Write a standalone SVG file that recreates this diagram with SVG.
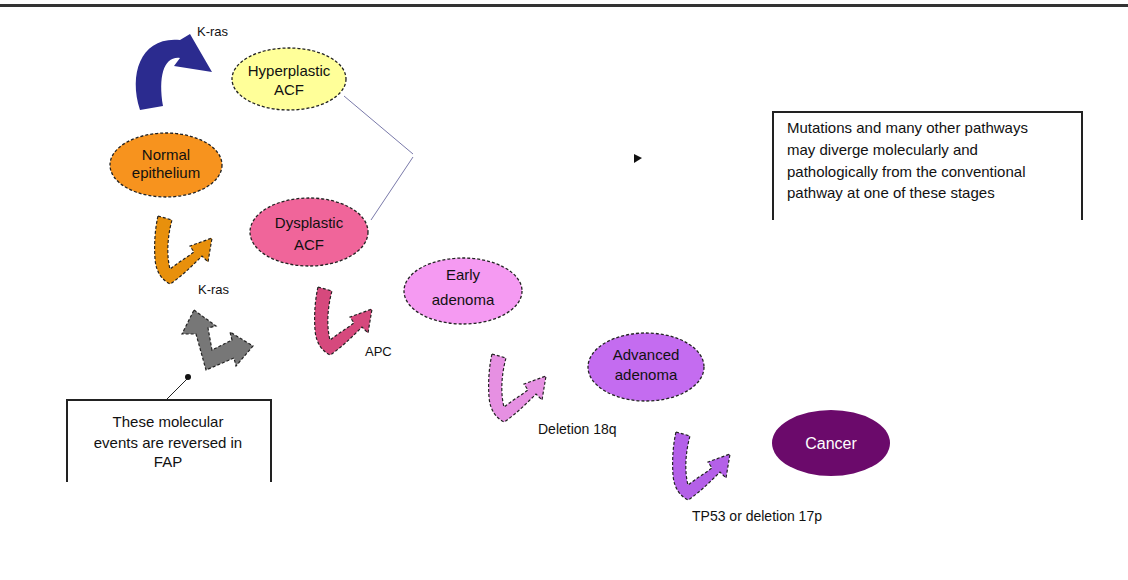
<svg xmlns="http://www.w3.org/2000/svg" width="1128" height="580" viewBox="0 0 1128 580">
<style>
.node{stroke:#222;stroke-width:1.3;stroke-dasharray:3 2}
.arr{stroke:#222;stroke-width:1.2;stroke-dasharray:3 2}
.t{font-family:"Liberation Sans",Arial,sans-serif;font-size:15px;fill:#111;text-anchor:middle}
.w{fill:#fff;font-size:16px}
.lbl{font-family:"Liberation Sans",Arial,sans-serif;font-size:13px;fill:#111}
.lbl14{font-size:14px}
.box{font-family:"Liberation Sans",Arial,sans-serif;font-size:15px;fill:#111}
</style>
<defs>
<path id="uarrow" d="M6,2 L20,6 C16,20 14,40 18,55 C24,50 34,44 42,38 L38,32 L60,24 L56,48 L50,42 C40,52 30,62 18,70 C10,66 4,58 3,45 C2,30 3,15 6,2 Z"/>
</defs>
<rect width="1128" height="580" fill="#fff"/>
<rect x="0" y="4" width="1128" height="3" fill="#333"/>

<g id="connectors" fill="none">
<line x1="344" y1="96" x2="413" y2="154" stroke="#7a7aaa" stroke-width="1"/>
<line x1="413" y1="157" x2="371" y2="220" stroke="#7a7aaa" stroke-width="1"/>
<polygon points="634,154 642,158 634,163" fill="#111"/>
<line x1="166" y1="400" x2="187" y2="379" stroke="#222" stroke-width="1"/>
<circle cx="188" cy="377" r="3" fill="#111"/>
</g>

<g id="arrow-blue">
<path d="M140,110 C128,72 142,36 180,40 L190,34 L212,72 L174,66 L180,58 C164,56 158,76 163,106 Z" fill="#2b2b8f"/>
<text class="lbl" x="197" y="36">K-ras</text>
</g>
<g id="arrow-orange">
<use href="#uarrow" x="152" y="214" fill="#e8900c" class="arr"/>
<text class="lbl" x="198" y="294">K-ras</text>
</g>
<g id="arrow-grey">
<polygon class="arr" fill="#777" points="194,310 216,326 208,328 212,350 232,340 230,332 253,346 236,366 234,358 206,370 196,334 182,334"/>
</g>
<g id="arrow-pink">
<use href="#uarrow" x="312" y="285" fill="#d6497d" class="arr"/>
<text class="lbl" x="365" y="356">APC</text>
</g>
<g id="arrow-lightpink">
<use href="#uarrow" x="486" y="352" fill="#e690e2" class="arr"/>
<text class="lbl lbl14" x="538" y="434">Deletion 18q</text>
</g>
<g id="arrow-purple">
<use href="#uarrow" x="670" y="430" fill="#b460e8" class="arr"/>
<text class="lbl lbl14" x="692" y="521">TP53 or deletion 17p</text>
</g>

<g id="node-hyperplastic">
<ellipse class="node" cx="289" cy="79" rx="57" ry="31" fill="#ffff99"/>
<text class="t" x="289" y="76">Hyperplastic</text>
<text class="t" x="289" y="95">ACF</text>
</g>
<g id="node-normal">
<ellipse class="node" cx="166" cy="165" rx="56" ry="32" fill="#f7931e"/>
<text class="t" x="166" y="160">Normal</text>
<text class="t" x="166" y="178">epithelium</text>
</g>
<g id="node-dysplastic">
<ellipse class="node" cx="309" cy="232" rx="59" ry="34" fill="#f0659a"/>
<text class="t" x="309" y="228">Dysplastic</text>
<text class="t" x="309" y="250">ACF</text>
</g>
<g id="node-early">
<ellipse class="node" cx="463" cy="291" rx="59" ry="33" fill="#f59af2"/>
<text class="t" x="463" y="280">Early</text>
<text class="t" x="463" y="305">adenoma</text>
</g>
<g id="node-advanced">
<ellipse class="node" cx="646" cy="367" rx="58" ry="34" fill="#c46cf0"/>
<text class="t" x="646" y="360">Advanced</text>
<text class="t" x="646" y="380">adenoma</text>
</g>
<g id="node-cancer">
<ellipse cx="831" cy="443" rx="59" ry="33" fill="#6b0a6b"/>
<text class="t w" x="831" y="449">Cancer</text>
</g>

<g id="note-right">
<rect x="773" y="112" width="309" height="108" fill="#fff"/>
<path d="M773,220 V112 H1082 V220" fill="none" stroke="#222" stroke-width="2"/>
<text class="box" x="787" y="133">Mutations and many other pathways</text>
<text class="box" x="787" y="155">may diverge molecularly and</text>
<text class="box" x="787" y="177">pathologically from the conventional</text>
<text class="box" x="787" y="198">pathway at one of these stages</text>
</g>
<g id="note-left">
<rect x="67" y="400" width="204" height="82" fill="#fff"/>
<path d="M67,482 V400 H271 V482" fill="none" stroke="#222" stroke-width="2"/>
<text class="box" x="168" y="427" text-anchor="middle">These molecular</text>
<text class="box" x="168" y="448" text-anchor="middle">events are reversed in</text>
<text class="box" x="168" y="467" text-anchor="middle">FAP</text>
</g>
</svg>
